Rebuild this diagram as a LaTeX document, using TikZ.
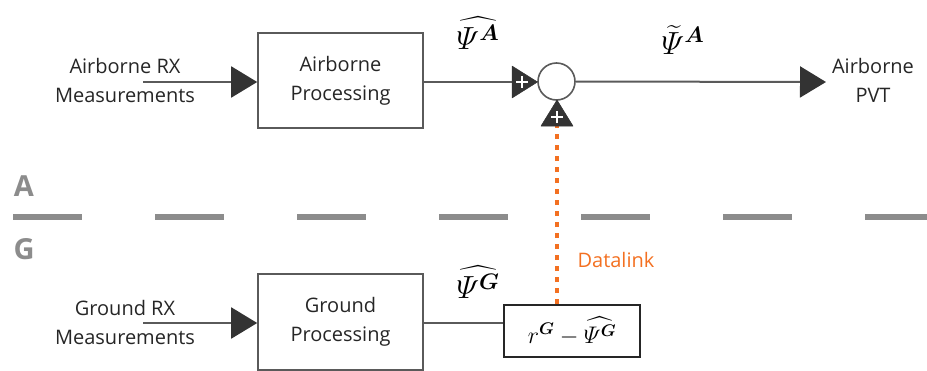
\RequirePackage{fix-cm}
\documentclass[tikz,border=0pt]{standalone}
\usepackage{amsmath}
\usepackage{bm}
\usepackage{fontspec}
\setmainfont{Open Sans}
\usetikzlibrary{arrows.meta,positioning}
\definecolor{linec}{HTML}{5A5A5A}
\definecolor{tipc}{HTML}{333333}
\definecolor{orangec}{HTML}{F37021}
\definecolor{sepc}{HTML}{8C8C8C}
\tikzset{
  lbl/.style={font=\fontsize{20}{29}\selectfont, align=center, text=black!85},
  procbox/.style={draw=linec, line width=1.6pt, minimum width=165pt, minimum height=95pt, lbl},
  conn/.style={draw=linec, line width=2pt},
  bigtip/.style={-{Triangle[length=26pt,width=31pt,color=tipc]}},
  mathlbl/.style={font=\fontsize{32}{32}\selectfont},
  sidelbl/.style={font=\fontsize{29}{29}\selectfont\bfseries, text=sepc},
  plussign/.style={draw=white, line width=1.6pt},
  trifill/.style={fill=tipc, draw=tipc, line width=0.5pt, line join=round},
}
\begin{document}
\begin{tikzpicture}[x=1pt,y=-1pt]
\useasboundingbox (0,0) rectangle (927,370);
% separator
\draw[sepc, line width=5.5pt, dash pattern=on 69pt off 73pt] (13,217) -- (927,217);
\node[sidelbl] (la) at (24,186) {A};
\node[sidelbl] (lg) at (24,249) {G};
% airborne row
\node[procbox] (ap) at (340.5,80.5) {Airborne\\Processing};
\node[lbl] (ain) at (125,80) {Airborne RX\\Measurements};
\coordinate (ains) at (143,82);
\draw[conn, bigtip] (ains) -- (ap.west |- ains);
\node[draw=linec, line width=1.6pt, circle, minimum size=37pt, inner sep=0pt, fill=white] (sum) at (556.5,81.5) {};
\coordinate (ltri) at (512,82);
\draw[conn] (ap.east |- ains) -- (ltri);
\draw[trifill] (512,66) -- (537.5,82) -- (512,98) -- cycle;
\draw[plussign] (516,82) -- (528,82) (522,76) -- (522,88);
\node[lbl] (aout) at (873,80) {Airborne\\PVT};
\coordinate (aoute) at (826,82);
\draw[conn, bigtip] (sum.east) -- (aoute);
\node[mathlbl] (psia) at (478,33) {$\widehat{\varPsi^{\bm{A}}}$};
\node[mathlbl] (psit) at (683,40) {$\widetilde{\varPsi}^{\bm{A}}$};
% ground row
\node[procbox, minimum height=96pt] (gp) at (340.5,322) {Ground\\Processing};
\node[lbl] (gin) at (125,322) {Ground RX\\Measurements};
\coordinate (gins) at (143,323);
\draw[conn, bigtip] (gins) -- (gp.west |- gins);
\node[draw=black!85, line width=1.6pt, minimum width=136pt, minimum height=52pt, font=\fontsize{24}{24}\selectfont] (corr) at (572,331) {$r^{\bm{G}}-\widehat{\varPsi^{\bm{G}}}$};
\draw[conn] (gp.east |- gins) -- (corr.west |- gins);
\node[mathlbl] (psig) at (478,282) {$\widehat{\varPsi^{\bm{G}}}$};
% datalink
\coordinate (btri) at (557,126);
\draw[orangec, line width=3.5pt, dash pattern=on 5pt off 6pt] (corr.north -| btri) -- ([yshift=4pt]btri);
\draw[trifill] (541,126) -- (557,100) -- (573,126) -- cycle;
\draw[plussign] (551,117) -- (563,117) (557,111) -- (557,123);
\node[text=orangec, font=\fontsize{20}{20}\selectfont] (dl) at (616,260) {Datalink};
\end{tikzpicture}
\end{document}
